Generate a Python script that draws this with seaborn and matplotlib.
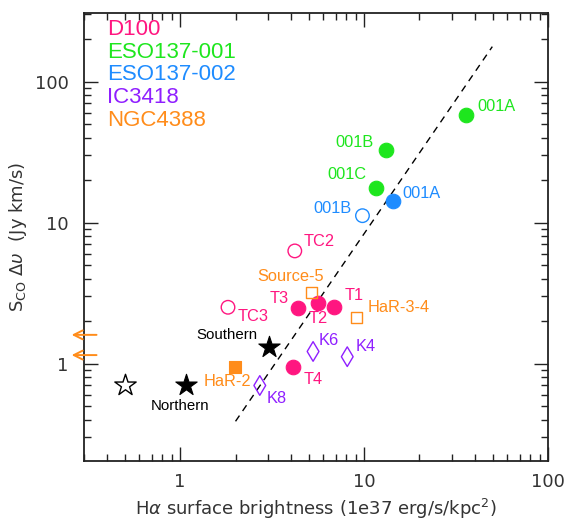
import numpy as np
import pandas as pd
import matplotlib
matplotlib.use("Agg")
import matplotlib.pyplot as plt
import seaborn as sns
from matplotlib.ticker import LogLocator, NullFormatter, FixedLocator, FixedFormatter

# ---------------- data ----------------
galaxy_names = ["D100", "ESO137-001", "ESO137-002", "IC3418", "NGC4388"]
galaxy_colors = ["#FF1680", "#1EE61E", "#1E8CFF", "#8F1FFF", "#FF8C1A"]

region = ["001A", "001B", "001C", "001A", "001B",
          "T1", "T2", "T3", "T4", "TC2", "TC3",
          "K4", "K6", "K8",
          "Source-5", "HaR-3-4", "HaR-2",
          "Southern", "Northern", ""]
region_galaxy = ["ESO137-001", "ESO137-001", "ESO137-001", "ESO137-002", "ESO137-002",
                 "D100", "D100", "D100", "D100", "D100", "D100",
                 "IC3418", "IC3418", "IC3418",
                 "NGC4388", "NGC4388", "NGC4388",
                 "other", "other", "other"]
halpha = [36.0, 13.2, 11.6, 14.3, 9.8,
          6.9, 5.65, 4.37, 4.11, 4.2, 1.82,
          8.1, 5.28, 2.71,
          5.19, 9.08, 1.99,
          3.04, 1.07, 0.50]
sco = [58.0, 32.8, 17.5, 14.3, 11.2,
       2.51, 2.68, 2.49, 0.94, 6.3, 2.51,
       1.12, 1.22, 0.70,
       3.19, 2.12, 0.94,
       1.32, 0.70, 0.70]
marker_kind = ["circle"] * 11 + ["diamond"] * 3 + ["square"] * 3 + ["star"] * 3
filled = [True, True, True, True, False,
          True, True, True, True, False, False,
          False, False, False,
          False, False, True,
          True, True, False]

# dashed relation
fit_x = [2.0, 49.8]
fit_y = [0.39, 177.0]

# upper limits in Halpha (orange arrows)
limit_y = [1.6, 1.15]
limit_x_from = [0.351, 0.351]
limit_x_to = [0.257, 0.257]

# ---------------- style ----------------
color_map = dict(zip(galaxy_names, galaxy_colors))
color_map["other"] = "black"
marker_map = {"circle": "o", "diamond": "d", "square": "s", "star": "*"}
size_map = {("circle", True): 110, ("circle", False): 95,
            ("diamond", False): 100, ("square", True): 85, ("square", False): 65,
            ("star", True): 260, ("star", False): 260}

# label offsets in pixels (dx, dy, ha)
label_style = [(11, 8, "left"), (-13, 7, "right"), (-9, 14, "right"),
               (10, 7, "left"), (-11, 7, "right"),
               (10, 12, "left"), (0, -15, "center"), (-9, 9, "right"),
               (11, -12, "left"), (9, 9, "left"), (10, -9, "left"),
               (8, 10, "left"), (6, 11, "left"), (7, -13, "left"),
               (12, 16, "right"), (11, 10, "left"), (16, -14, "right"),
               (-11, 12, "right"), (-6, -21, "center"), (0, 0, "left")]

df = pd.DataFrame({"region": region, "galaxy": region_galaxy, "halpha": halpha,
                   "sco": sco, "kind": marker_kind, "filled": filled})

sns.set_style("ticks")
plt.rcParams["font.family"] = ["DejaVu Sans"]
plt.rcParams["mathtext.fontset"] = "dejavusans"

fig = plt.figure(figsize=(5.69, 5.24), dpi=100)
ax = fig.add_axes([84 / 569, 1 - 460.7 / 524, (548 - 84) / 569, (460.7 - 13.3) / 524])
ax.set_xscale("log")
ax.set_yscale("log")
ax.set_xlim(0.3, 100)
ax.set_ylim(0.205, 305)

# dashed line
sns.lineplot(x=fit_x, y=fit_y, ax=ax, color="black", linewidth=1.0,
             linestyle=(0, (5, 4)), zorder=1)

# points
for i, row in df.iterrows():
    c = color_map[row["galaxy"]]
    kind = row["kind"]
    fl = bool(row["filled"])
    if kind == "star" and not fl:
        fc = "white"
    else:
        fc = c if fl else "none"
    sns.scatterplot(x=[row["halpha"]], y=[row["sco"]], ax=ax,
                    marker=marker_map[kind], s=size_map[(kind, fl)],
                    color=c, facecolor=fc, edgecolor=c,
                    linewidth=1.0 if not fl else 0.8, zorder=3, legend=False)
    dx, dy, ha = label_style[i]
    if row["region"]:
        is_black = row["galaxy"] == "other"
        ax.annotate(row["region"], (row["halpha"], row["sco"]),
                    xytext=(dx, dy), textcoords="offset pixels",
                    ha=ha, va="center", color=c,
                    fontsize=10.8 if is_black else 11.8,
                    family=["Liberation Sans", "DejaVu Sans"], zorder=4)

# upper-limit arrows
for yv, x0, x1 in zip(limit_y, limit_x_from, limit_x_to):
    ax.annotate("", xy=(x1, yv), xytext=(x0, yv),
                arrowprops=dict(arrowstyle="->", color=galaxy_colors[4], lw=1.4,
                                mutation_scale=16, shrinkA=0, shrinkB=0),
                annotation_clip=False)

# text legend
for k, (name, col) in enumerate(zip(galaxy_names, galaxy_colors)):
    ax.text(0.049, 0.9627 - k * 0.0503, name, transform=ax.transAxes,
            color=col, fontsize=16, va="center", ha="left",
            family=["Liberation Sans", "DejaVu Sans"])

# axes styling
ax.xaxis.set_major_locator(FixedLocator([1, 10, 100]))
ax.xaxis.set_major_formatter(FixedFormatter(["1", "10", "100"]))
ax.xaxis.set_minor_locator(LogLocator(base=10, subs=np.arange(2, 10), numticks=20))
ax.xaxis.set_minor_formatter(NullFormatter())
ax.yaxis.set_major_locator(FixedLocator([1, 10, 100]))
ax.yaxis.set_major_formatter(FixedFormatter(["1", "10", "100"]))
ax.yaxis.set_minor_locator(LogLocator(base=10, subs=np.arange(2, 10), numticks=20))
ax.yaxis.set_minor_formatter(NullFormatter())

ax.tick_params(which="both", direction="in", top=True, right=True,
               colors="#222222", labelcolor="#333333")
ax.tick_params(which="major", length=10, width=1.0, labelsize=13, pad=9)
ax.tick_params(which="minor", length=5, width=1.0)
ax.tick_params(axis="y", which="major", pad=11)
for sp in ax.spines.values():
    sp.set_linewidth(1.3)
    sp.set_color("#222222")

ax.set_xlabel(r"H$\alpha$ surface brightness (1e37 erg/s/kpc$^2$)",
              fontsize=13, color="#333333", labelpad=4)
ax.set_ylabel(r"S$_{\rm CO}$ $\Delta\upsilon$  (Jy km/s)",
              fontsize=13, color="#333333", labelpad=4)

fig.savefig("out.png", dpi=100)
